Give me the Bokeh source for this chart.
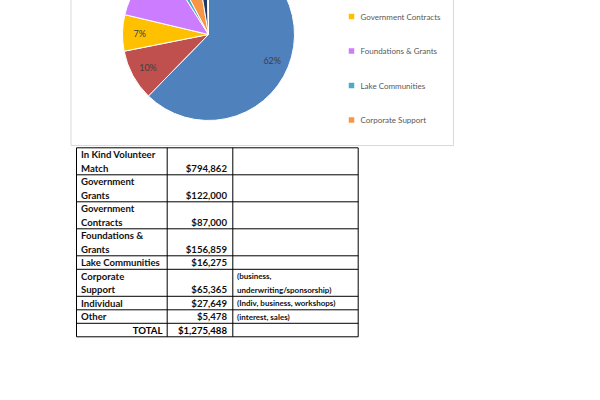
import math
from bokeh.plotting import figure
from bokeh.models import Range1d, ColumnDataSource
from bokeh.core.properties import value
from bokeh.embed import file_html
from bokeh.resources import INLINE

# ---------------- data ----------------
categories = ["In Kind Volunteer Match", "Government Grants", "Government Contracts",
              "Foundations & Grants", "Lake Communities", "Corporate Support",
              "Individual", "Other"]
amounts = [794862, 122000, 87000, 156859, 16275, 65365, 27649, 5478]
row_labels = [["In Kind Volunteer", "Match"], ["Government", "Grants"],
              ["Government", "Contracts"], ["Foundations &", "Grants"],
              ["Lake Communities"], ["Corporate", "Support"], ["Individual"], ["Other"]]
notes = [[], [], [], [], [], ["(business,", "underwriting/sponsorship)"],
         ["(Indiv, business, workshops)"], ["(interest, sales)"]]
total_label = "TOTAL"
colors = ["#4F81BD", "#C0504D", "#FFC000", "#CC7DFF", "#4BACC6", "#F79646",
          "#1F3864", "#A6A6A6"]
legend_count = 6  # entries that fall inside the chart frame

# ---------------- layout / style ----------------
FONT = "Lato"
W, H = 592, 392
OX = 8  # figure is placed 8px above/left of the window origin

p = figure(width=W, height=H, output_backend="svg", toolbar_location=None,
           x_range=Range1d(-OX, W - OX), y_range=Range1d(-(H - OX), OX), min_border=0,
           x_axis_type=None, y_axis_type=None,
           styles={"margin-left": "-8px", "margin-top": "-8px"})
p.grid.visible = False
p.outline_line_color = None
p.background_fill_color = "white"
p.border_fill_color = "white"

def Y(img_y):
    return -img_y

# chart frame
p.quad(left=[70.5], right=[453], top=[Y(-20)], bottom=[Y(145)],
       fill_color="white", line_color="#D9D9D9", line_width=1)

# pie
total = sum(amounts)
fracs = [a / total for a in amounts]
cum = [0.0]
for f in fracs:
    cum.append(cum[-1] + f)
starts = [math.pi / 2 - 2 * math.pi * c for c in cum[:-1]]
ends = [math.pi / 2 - 2 * math.pi * c for c in cum[1:]]
CX, CY, R = 208, 34, 86
src = ColumnDataSource(dict(start=starts, end=ends, color=colors, cat=categories))
p.wedge(x=CX, y=Y(CY), radius=R, start_angle="start", end_angle="end",
        direction="clock", fill_color="color", line_color="white", line_width=1,
        source=src)

mids = [(s + e) / 2 for s, e in zip(starts, ends)]
lx = [CX + 0.8 * R * math.cos(m) for m in mids]
ly = [Y(CY) + 0.8 * R * math.sin(m) for m in mids]
pct = [f"{round(100 * f)}%" for f in fracs]
p.text(x=lx[:3], y=ly[:3], text=pct[:3], text_align="center", text_baseline="middle",
       text_font=value(FONT), text_font_size="9px", text_color="#404040")

# legend
leg_y = [Y(16 + (i - 2) * 34.5) for i in range(legend_count)]
vis = [i for i in range(legend_count) if 16 + (i - 2) * 34.5 > 0]
p.rect(x=[351] * len(vis), y=[leg_y[i] for i in vis], width=5.5, height=5.5,
       fill_color=[colors[i] for i in vis], line_color=None)
p.text(x=[360] * len(vis), y=[leg_y[i] for i in vis], text=[categories[i] for i in vis],
       text_align="left", text_baseline="middle", text_font=value(FONT),
       text_font_size="8px", text_color="#595959")

# table
col_x = [76, 166.7, 232.3, 357.7]
TOP, LINE_H, OFF = 147.3, 13.5, 6.7
n_lines = [max(len(a), len(b), 1) for a, b in zip(row_labels, notes)] + [1]
bounds = [TOP]
for n in n_lines:
    bounds.append(bounds[-1] + n * LINE_H)

p.segment(x0=[col_x[0]] * len(bounds), x1=[col_x[-1]] * len(bounds),
          y0=[Y(b) for b in bounds], y1=[Y(b) for b in bounds],
          line_color="black", line_width=1)
p.segment(x0=col_x, x1=col_x, y0=[Y(bounds[0])] * 4, y1=[Y(bounds[-1])] * 4,
          line_color="black", line_width=1)

lab_x, lab_y, lab_t = [], [], []
nx, ny, nt = [], [], []
vy = []
for i, (lines, nl) in enumerate(zip(row_labels, notes)):
    b = bounds[i + 1]
    for k, t in enumerate(lines):
        lab_x.append(80.5)
        lab_y.append(Y(b - OFF - (len(lines) - 1 - k) * LINE_H))
        lab_t.append(t)
    for k, t in enumerate(nl):
        nx.append(236.5)
        ny.append(Y(b - OFF - (len(nl) - 1 - k) * LINE_H))
        nt.append(t)
    vy.append(Y(b - OFF))
vals = [f"${a:,}" for a in amounts]

p.text(x=lab_x, y=lab_y, text=lab_t, text_align="left", text_baseline="middle",
       text_font=value(FONT), text_font_size="9.6px", text_font_style="bold",
       text_color="#111111")
p.text(x=[226.5] * len(vals), y=vy, text=vals, text_align="right", text_baseline="middle",
       text_font=value(FONT), text_font_size="9.6px", text_font_style="bold",
       text_color="#111111")
p.text(x=nx, y=ny, text=nt, text_align="left", text_baseline="middle",
       text_font=value(FONT), text_font_size="8px", text_font_style="bold",
       text_color="#111111")
p.text(x=[162, 226.5], y=[Y(bounds[-1] - OFF)] * 2, text=[total_label, f"${total:,}"],
       text_align="right", text_baseline="middle", text_font=value(FONT),
       text_font_size="9.6px", text_font_style="bold", text_color="black")

open("out.html", "w").write(file_html(p, INLINE))
